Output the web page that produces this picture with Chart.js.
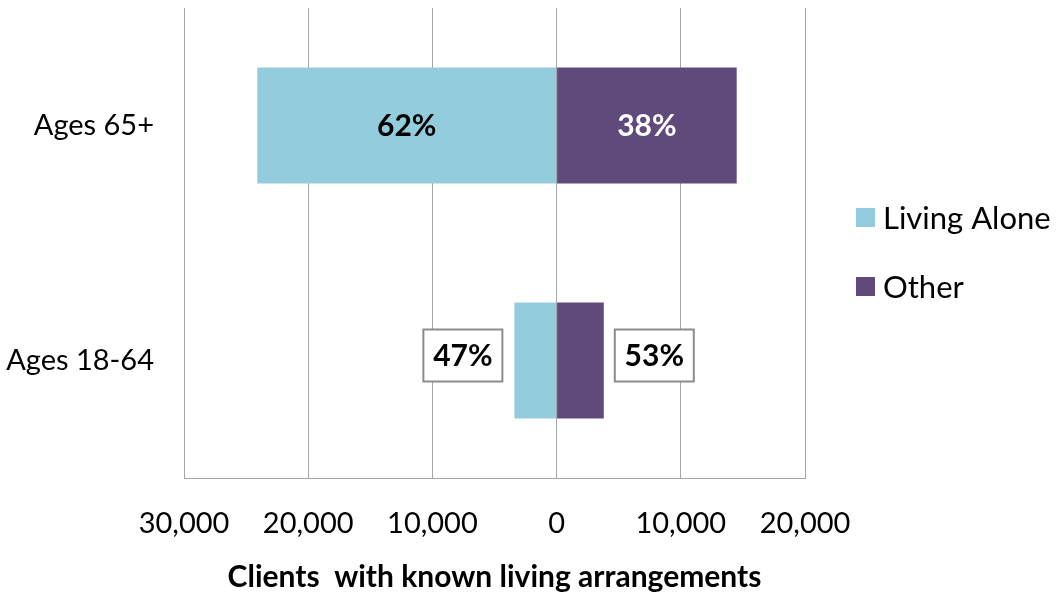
<!DOCTYPE html>
<html>
<head>
<meta charset="utf-8">
<script src="https://cdn.jsdelivr.net/npm/chart.js@4.4.1/dist/chart.umd.min.js"></script>
<style>
  html, body { margin: 0; padding: 0; background: #fff; }
  #wrap { width: 1056px; height: 595px; position: relative; }
</style>
</head>
<body>
<div id="wrap"><canvas id="c" width="1056" height="595"></canvas></div>
<script>
const categories = ['Ages 65+', 'Ages 18-64'];
const seriesNames = ['Living Alone', 'Other'];
const livingAlone = [24100, 3400];
const other = [14500, 3800];
const livingAlonePct = ['62%', '47%'];
const otherPct = ['38%', '53%'];
const xTicks = [-30000, -20000, -10000, 0, 10000, 20000];

const COLORS = ['#93CDDD', '#604A7B'];
const FONT = 'Lato, "Open Sans", sans-serif';

const labelPlugin = {
  id: 'labelPlugin',
  afterDatasetsDraw(chart) {
    const ctx = chart.ctx;
    ctx.save();
    ctx.font = 'bold 30px ' + FONT;
    ctx.textAlign = 'center';
    ctx.textBaseline = 'middle';
    const m0 = chart.getDatasetMeta(0).data;
    const m1 = chart.getDatasetMeta(1).data;
    // Ages 65+ : inside
    let a = m0[0], b = m1[0];
    ctx.fillStyle = '#000';
    ctx.fillText(livingAlonePct[0], (a.x + a.base) / 2, a.y + 1);
    ctx.fillStyle = '#fff';
    ctx.fillText(otherPct[0], (b.x + b.base) / 2, b.y + 1);
    // Ages 18-64 : boxed outside
    a = m0[1]; b = m1[1];
    const bw = 79, bh = 52;
    const drawBox = (txt, cx, cy) => {
      ctx.fillStyle = '#fff';
      ctx.fillRect(cx - bw / 2, cy - bh / 2, bw, bh);
      ctx.strokeStyle = '#8c8c8c';
      ctx.lineWidth = 2;
      ctx.strokeRect(cx - bw / 2, cy - bh / 2, bw, bh);
      ctx.fillStyle = '#000';
      ctx.fillText(txt, cx, cy + 1);
    };
    drawBox(livingAlonePct[1], Math.min(a.x, a.base) - 12 - bw / 2, a.y - 5);
    drawBox(otherPct[1], Math.max(b.x, b.base) + 11 + bw / 2, b.y - 5);
    ctx.restore();
  }
};

const legendPlugin = {
  id: 'customLegend',
  afterDraw(chart) {
    const ctx = chart.ctx;
    ctx.save();
    ctx.font = '31px ' + FONT;
    ctx.textBaseline = 'middle';
    ctx.textAlign = 'left';
    const ys = [218, 287];
    chart.data.datasets.forEach((ds, i) => {
      ctx.fillStyle = ds.backgroundColor;
      ctx.fillRect(856, ys[i] - 10, 19, 19);
      ctx.fillStyle = '#000';
      ctx.fillText(ds.label, 883, ys[i] + 1);
    });
    ctx.restore();
  }
};

new Chart(document.getElementById('c'), {
  type: 'bar',
  data: {
    labels: categories,
    datasets: [
      { label: seriesNames[0], data: livingAlone.map(v => -v), backgroundColor: COLORS[0],
        borderWidth: 0 },
      { label: seriesNames[1], data: other, backgroundColor: COLORS[1],
        borderWidth: 0 }
    ]
  },
  options: {
    indexAxis: 'y',
    responsive: false,
    animation: false,
    devicePixelRatio: 1,
    layout: { padding: { left: 0, right: 251, top: 8, bottom: 0 } },
    datasets: { bar: { categoryPercentage: 1, barPercentage: 0.494 } },
    plugins: { legend: { display: false }, tooltip: { enabled: false } },
    scales: {
      x: {
        stacked: true,
        min: -30000, max: 20000,
        afterBuildTicks(scale) { scale.ticks = xTicks.map(v => ({ value: v })); },
        afterFit(scale) { scale.height = 117; scale.paddingLeft = 0; scale.paddingRight = 0; },
        ticks: {
          color: '#000',
          font: { family: FONT, size: 29 },
          padding: 28,
          maxRotation: 0,
          callback: v => Math.abs(v).toLocaleString('en-US')
        },
        grid: { color: '#a6a6a6', lineWidth: 1, drawTicks: false },
        border: { color: '#a6a6a6', width: 1 },
        title: {
          display: true,
          text: 'Clients  with known living arrangements',
          color: '#000',
          font: { family: FONT, size: 30, weight: 'bold' },
          padding: { top: 0, bottom: 0 }
        }
      },
      y: {
        stacked: true,
        afterFit(scale) { scale.width = 184; scale.paddingTop = 0; scale.paddingBottom = 0; },
        ticks: {
          color: '#000',
          font: { family: FONT, size: 29 },
          padding: 30
        },
        grid: { display: false, drawTicks: false },
        border: { display: true, color: '#a6a6a6', width: 1 }
      }
    }
  },
  plugins: [labelPlugin, legendPlugin]
});
</script>
</body>
</html>
